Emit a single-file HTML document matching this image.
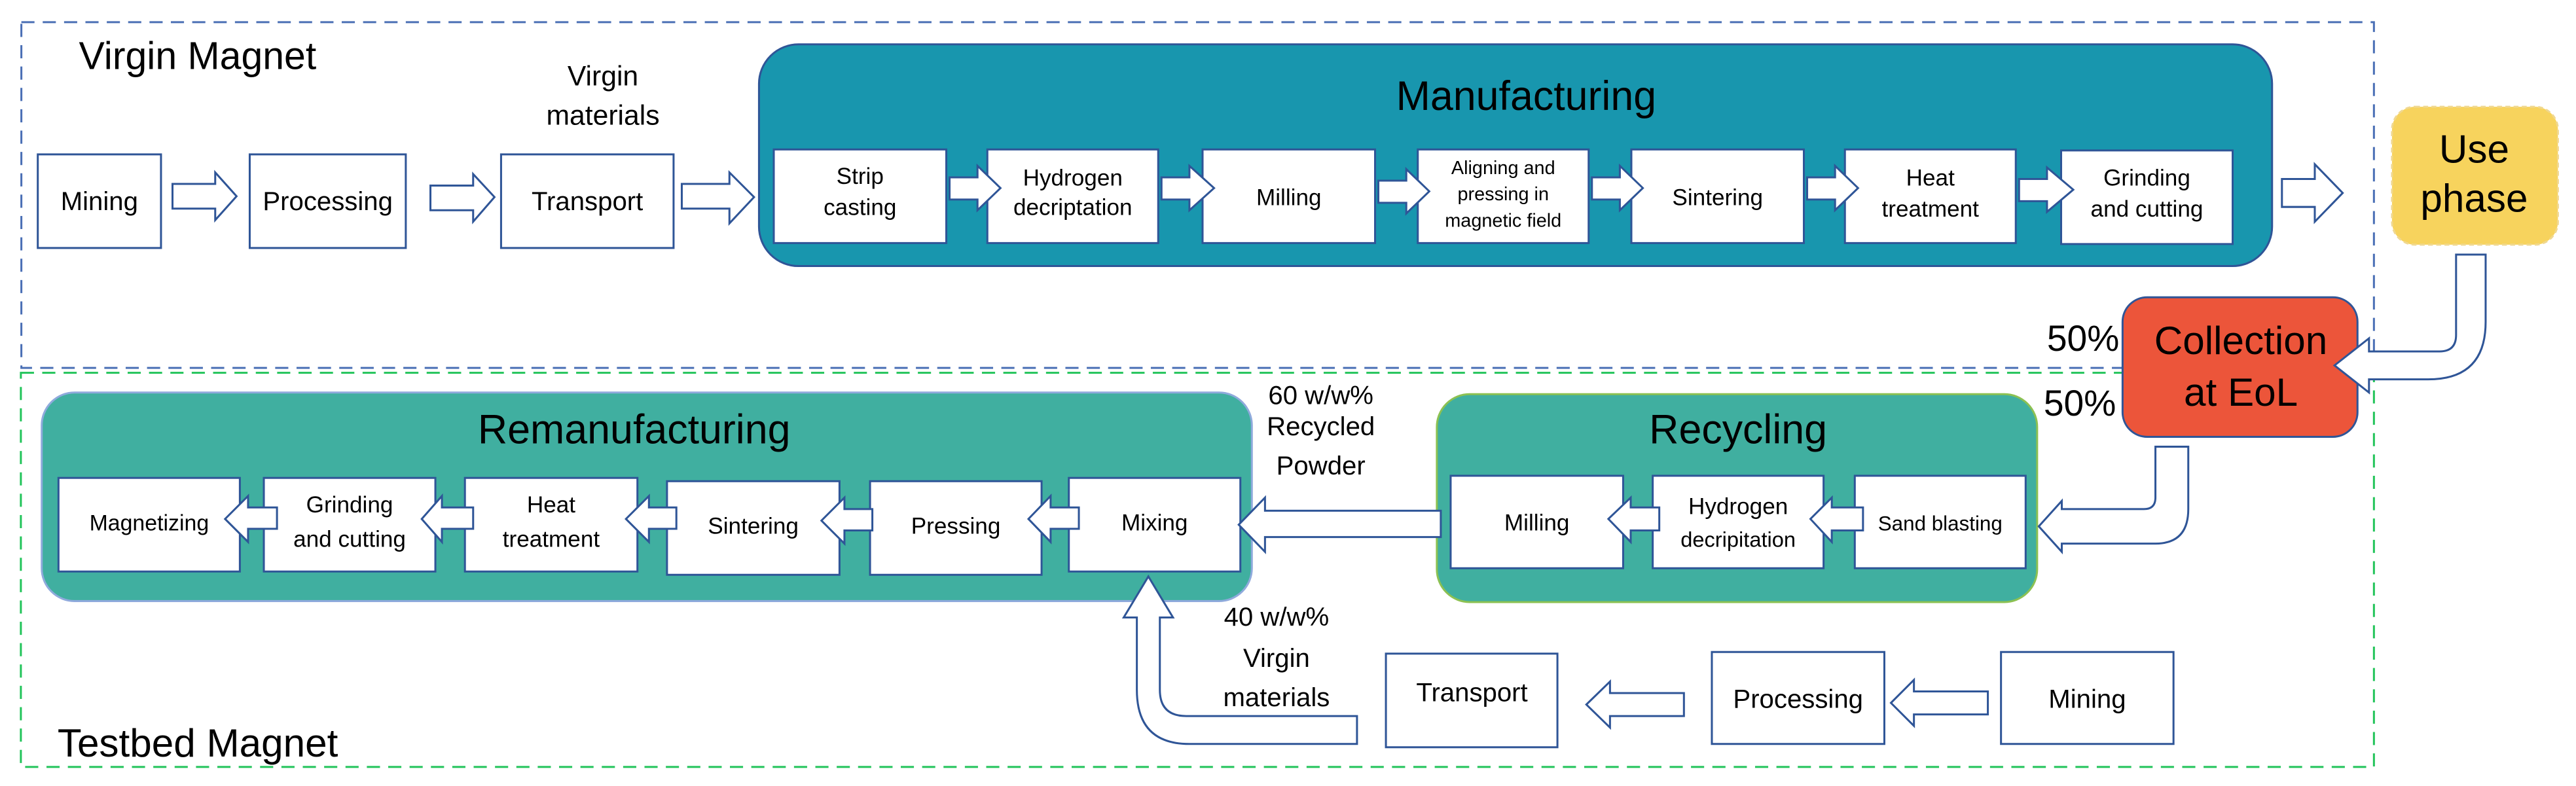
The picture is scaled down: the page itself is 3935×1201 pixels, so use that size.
<!DOCTYPE html>
<html><head><meta charset="utf-8"><style>
html,body{margin:0;padding:0;background:#fff;}
svg{display:block;}
text{font-family:"Liberation Sans",sans-serif;fill:#000;}
</style></head><body>
<svg width="3935" height="1201" viewBox="0 0 1568 478.6" preserveAspectRatio="none" xmlns="http://www.w3.org/2000/svg">
<rect width="1568" height="478.6" fill="#fff"/>
<rect x="13" y="13.5" width="1432" height="210.5" fill="none" stroke="#4a6fb5" stroke-width="1.2" stroke-dasharray="8,5"/>
<rect x="12.7" y="227" width="1432.3" height="240" fill="none" stroke="#22c45a" stroke-width="1.2" stroke-dasharray="8,5"/>

<g stroke="#2f5597" stroke-width="1.2">
<rect x="462" y="27" width="921" height="135" rx="24" fill="#1896ae"/>
<rect x="25.4" y="239" width="736.6" height="127" rx="20" fill="#40afa0" stroke="#8faadc"/>
<rect x="874.6" y="240" width="365.4" height="126.6" rx="20" fill="#40afa0" stroke="#8cc152"/>
<rect x="1456" y="65" width="101" height="84" rx="14" fill="#f7d35d" stroke="#f0d890" stroke-dasharray="3,2"/>
<rect x="1292" y="181" width="143" height="85" rx="15" fill="#ec553a"/>

<g fill="#fff">
<rect x="23" y="94" width="75" height="57"/>
<rect x="152" y="94" width="95" height="57"/>
<rect x="305" y="94" width="105" height="57"/>
<rect x="471" y="91" width="105" height="57"/>
<rect x="601" y="91" width="104" height="57"/>
<rect x="732" y="91" width="105" height="57"/>
<rect x="863" y="91" width="104" height="57"/>
<rect x="993" y="91" width="105" height="57"/>
<rect x="1123" y="91" width="104" height="57"/>
<rect x="1254.6" y="91.6" width="104.4" height="57"/>
<rect x="35.6" y="291" width="110.4" height="57"/>
<rect x="160.6" y="291" width="104.4" height="57"/>
<rect x="283" y="291" width="105" height="57"/>
<rect x="406" y="293" width="105" height="57"/>
<rect x="529.6" y="293" width="104.4" height="57"/>
<rect x="650.6" y="291" width="104.4" height="57"/>
<rect x="883" y="289.7" width="105" height="56.3"/>
<rect x="1006" y="289.7" width="104" height="56.3"/>
<rect x="1129" y="289.7" width="104" height="56.3"/>
<rect x="843.6" y="398" width="104.4" height="57"/>
<rect x="1042" y="397" width="105" height="56"/>
<rect x="1218" y="397" width="105" height="56"/>

<path d="M105,112 L131,112 L131,105 L144,119.5 L131,134 L131,127 L105,127 Z"/>
<path d="M262,113 L288,113 L288,106 L301,120 L288,135 L288,128 L262,128 Z"/>
<path d="M415,112 L444,112 L444,105 L459,120 L444,136 L444,127 L415,127 Z"/>
<path d="M578,108 L595,108 L595,101 L609,114.5 L595,128 L595,121.5 L578,121.5 Z"/>
<path d="M707,108 L724,108 L724,101 L739,114.5 L724,128 L724,121.5 L707,121.5 Z"/>
<path d="M839,110 L856,110 L856,103 L870,116.5 L856,130 L856,123.5 L839,123.5 Z"/>
<path d="M969,108 L986,108 L986,101 L1000,114.5 L986,128 L986,121.5 L969,121.5 Z"/>
<path d="M1100,108 L1117,108 L1117,101 L1131,114.5 L1117,128 L1117,121.5 L1100,121.5 Z"/>
<path d="M1229,109 L1246,109 L1246,102 L1262,115.5 L1246,129 L1246,122.5 L1229,122.5 Z"/>
<path d="M1389,109 L1409,109 L1409,100 L1426,117.5 L1409,135 L1409,126 L1389,126 Z"/>

<path d="M168.6,309 L151,309 L151,302 L137,316 L151,330 L151,322 L168.6,322 Z"/>
<path d="M288,309 L269,309 L269,302 L256.7,316 L269,330 L269,322 L288,322 Z"/>
<path d="M411.7,309 L395,309 L395,302 L381,316 L395,330 L395,322 L411.7,322 Z"/>
<path d="M531,310 L514,310 L514,303 L500,317 L514,331 L514,323 L531,323 Z"/>
<path d="M656.7,309 L639.5,309 L639.5,302 L626,316 L639.5,330 L639.5,322 L656.7,322 Z"/>
<path d="M1010,309 L992.6,309 L992.6,303 L979,316 L992.6,330 L992.6,323 L1010,323 Z"/>
<path d="M1134,309 L1115,309 L1115,303 L1102,316 L1115,330 L1115,323 L1134,323 Z"/>
<path d="M877,311 L770,311 L770,303 L754,319.5 L770,336 L770,327 L877,327 Z"/>
<path d="M1025,422 L980,422 L980,415 L965.6,429 L980,443 L980,436 L1025,436 Z"/>
<path d="M1210,421 L1165,421 L1165,414 L1151,428 L1165,442 L1165,435 L1210,435 Z"/>

<path d="M1495,155 L1513,155 L1513,196 Q1513,231 1478,231 L1442,231 L1442,239 L1421,222.5 L1442,206 L1442,214 L1485,214 Q1495,214 1495,204 Z"/>
<path d="M1312,272 L1332,272 L1332,310 Q1332,331 1312,331 L1255,331 L1255,336 L1241,320.5 L1255,305 L1255,310 L1305,310 Q1312,310 1312,303 Z"/>
<path d="M692,376 L684,376 L699,351 L714,376 L706,376 L706,420 Q706,436 722,436 L826,436 L826,453 L724,453 Q692,453 692,420 Z"/>
</g>
</g>

<text x="48" y="42" font-size="23.5">Virgin Magnet</text>
<text x="35" y="460.6" font-size="24">Testbed Magnet</text>
<g text-anchor="middle">
<text x="367" y="52" font-size="17">Virgin</text>
<text x="367" y="76" font-size="17">materials</text>
<text x="929" y="67" font-size="25">Manufacturing</text>
<text x="386" y="270" font-size="25">Remanufacturing</text>
<text x="1058" y="270" font-size="25">Recycling</text>
<text x="1506" y="99" font-size="24">Use</text>
<text x="1506" y="129" font-size="24">phase</text>
<text x="1364" y="215.6" font-size="24">Collection</text>
<text x="1364" y="247" font-size="24">at EoL</text>
<text x="804" y="246" font-size="16">60 w/w%</text>
<text x="804" y="265" font-size="16">Recycled</text>
<text x="804" y="289" font-size="16">Powder</text>
<text x="777" y="381" font-size="16">40 w/w%</text>
<text x="777" y="406" font-size="16">Virgin</text>
<text x="777" y="430" font-size="16">materials</text>

<g font-size="16">
<text x="60.5" y="128">Mining</text>
<text x="199.5" y="128">Processing</text>
<text x="357.5" y="128">Transport</text>
<text x="896" y="427">Transport</text>
<text x="1094.5" y="431">Processing</text>
<text x="1270.5" y="431">Mining</text>
</g>
<g font-size="14">
<text x="523.5" y="112">Strip</text>
<text x="523.5" y="131">casting</text>
<text x="653" y="113">Hydrogen</text>
<text x="653" y="131">decriptation</text>
<text x="784.5" y="125">Milling</text>
<text x="915" y="106" font-size="11.5">Aligning and</text>
<text x="915" y="122" font-size="11.5">pressing in</text>
<text x="915" y="138" font-size="11.5">magnetic field</text>
<text x="1045.5" y="125">Sintering</text>
<text x="1175" y="113">Heat</text>
<text x="1175" y="132">treatment</text>
<text x="1306.8" y="113">Grinding</text>
<text x="1306.8" y="132">and cutting</text>

<text x="90.8" y="323" font-size="13.5">Magnetizing</text>
<text x="212.8" y="312">Grinding</text>
<text x="212.8" y="333">and cutting</text>
<text x="335.5" y="312">Heat</text>
<text x="335.5" y="333">treatment</text>
<text x="458.5" y="325">Sintering</text>
<text x="581.8" y="325">Pressing</text>
<text x="702.8" y="323">Mixing</text>

<text x="935.5" y="323">Milling</text>
<text x="1058" y="313">Hydrogen</text>
<text x="1058" y="333" font-size="13">decripitation</text>
<text x="1181" y="323" font-size="12.5">Sand blasting</text>
</g>
</g>
<g font-size="22" text-anchor="end">
<text x="1290" y="213.6">50%</text>
<text x="1288" y="253">50%</text>
</g>
</svg>
</body></html>
